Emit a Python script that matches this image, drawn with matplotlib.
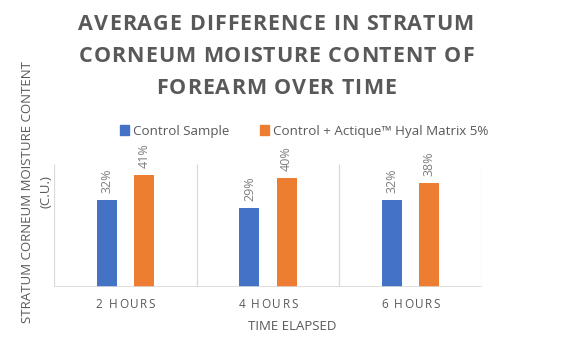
# Average difference in stratum corneum moisture content - bar chart
import matplotlib
matplotlib.use('Agg')
import matplotlib.pyplot as plt
from matplotlib.font_manager import FontProperties
from matplotlib.patches import Patch

categories = ['2 HOURS', '4 HOURS', '6 HOURS']
control = [32, 29, 32]
actique = [41, 40, 38]
series_names = ['Control Sample', 'Control + Actique\u2122 Hyal Matrix 5%']
title_lines = ['AVERAGE DIFFERENCE IN STRATUM',
               'CORNEUM MOISTURE CONTENT OF',
               'FOREARM OVER TIME']

blue = '#4472c4'
orange = '#ed7d31'
grey = '#595959'
W, H = 562, 354

plt.rcParams['font.family'] = ['Open Sans', 'DejaVu Sans']

fig = plt.figure(figsize=(W / 100, H / 100), dpi=100)
renderer = fig.canvas.get_renderer()


def text_w(s, fp):
    # width in pixels, measured between two I's so spaces count
    a = renderer.get_text_width_height_descent('I' + s + 'I', fp, ismath=False)[0]
    b = renderer.get_text_width_height_descent('II', fp, ismath=False)[0]
    return a - b


def spaced(xc, yc, s, fp, color, track):
    # draw text centred at pixel (xc, yc) with extra letter spacing
    ws = [text_w(c, fp) for c in s]
    total = sum(ws) + track * (len(s) - 1)
    cx = xc - total / 2
    for c, w in zip(s, ws):
        fig.text(cx / W, 1 - yc / H, c, fontproperties=fp, color=color,
                 ha='left', va='center')
        cx += w + track


# plot area
left, right, top, base = 54, 482, 164, 287
ax = fig.add_axes([left / W, 1 - base / H, (right - left) / W, (base - top) / H])

x = range(len(categories))
bw = 0.14
off = 0.13
b1 = ax.bar([i - off for i in x], control, bw, color=blue)
b2 = ax.bar([i + off for i in x], actique, bw, color=orange)

for bars, vals in [(b1, control), (b2, actique)]:
    for b, v in zip(bars, vals):
        ax.annotate('%d%%' % v, (b.get_x() + b.get_width() / 2, v),
                    xytext=(0, 5), textcoords='offset points',
                    rotation=90, ha='center', va='bottom',
                    fontsize=9, color='#7f7f7f')

ax.set_xlim(-0.5, 2.5)
ax.set_ylim(0, 45)
ax.vlines([-0.5, 0.5, 1.5, 2.5], 0, 45, color='#d9d9d9', lw=0.9)
for s in ax.spines.values():
    s.set_visible(False)
ax.axhline(0, color='#d9d9d9', lw=1.2)
ax.set_xticks([])
ax.set_yticks([])

# category labels with letter spacing
tick_fp = FontProperties(family='Open Sans', size=8.5)
for i, c in enumerate(categories):
    xc = left + (right - left) * (i + 0.5) / 3
    spaced(xc, 305, c, tick_fp, grey, 1.6)

fig.text(292 / W, 1 - 326 / H, 'TIME ELAPSED', ha='center', va='center',
         fontsize=9.5, color=grey)
fig.text(28 / W, 1 - 192 / H, 'STRATUM CORNEUM MOISTURE CONTENT',
         rotation=90, ha='center', va='center', fontsize=9.5, color=grey)
fig.text(46 / W, 1 - 192 / H, '(C.U.)',
         rotation=90, ha='center', va='center', fontsize=9.5, color=grey)

# title
title_fp = FontProperties(family='Open Sans', size=15.5, weight='bold')
for line, yc in zip(title_lines, [25, 56, 88]):
    spaced(276, yc, line, title_fp, grey, 0.95)

handles = [Patch(color=blue), Patch(color=orange)]
fig.legend(handles, series_names, loc='center', bbox_to_anchor=(304 / W, 1 - 131 / H),
           ncol=2, frameon=False, handlelength=0.7, handleheight=0.7,
           handletextpad=0.25, columnspacing=2.3,
           prop=FontProperties(family='Open Sans', size=9.6))
for t in fig.legends[0].get_texts():
    t.set_color(grey)

fig.savefig('out.png', dpi=100)
